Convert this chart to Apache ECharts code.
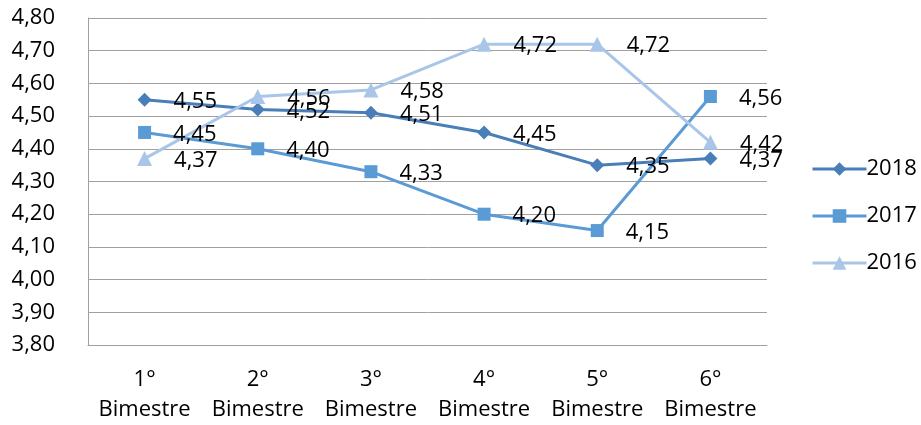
<!DOCTYPE html>
<html>
<head>
<meta charset="utf-8">
<script src="https://cdn.jsdelivr.net/npm/echarts@6/dist/echarts.min.js"></script>
<style>
  html, body { margin: 0; padding: 0; background: #fff; }
  #chart { width: 921px; height: 425px; }
</style>
</head>
<body>
<div id="chart"></div>
<script>
// Bimonthly averages per year
const categories = ['1°\nBimestre', '2°\nBimestre', '3°\nBimestre', '4°\nBimestre', '5°\nBimestre', '6°\nBimestre'];
const values2018 = [4.55, 4.52, 4.51, 4.45, 4.35, 4.37];
const values2017 = [4.45, 4.40, 4.33, 4.20, 4.15, 4.56];
const values2016 = [4.37, 4.56, 4.58, 4.72, 4.72, 4.42];
const yMin = 3.8, yMax = 4.8, yStep = 0.1;

const FONT = '"Open Sans", sans-serif';
const comma = v => v.toFixed(2).replace('.', ',');

function lineSeries(name, data, color, symbol, size) {
  return {
    name: name,
    type: 'line',
    data: data,
    symbol: symbol,
    symbolSize: size,
    itemStyle: { color: color },
    lineStyle: { color: color, width: 3 },
    label: {
      show: true,
      position: 'right',
      distance: 22,
      offset: [0, 2],
      color: '#000',
      fontFamily: FONT,
      fontSize: 22,
      formatter: p => comma(p.value)
    },
    emphasis: { disabled: true },
    animation: false
  };
}

const chart = echarts.init(document.getElementById('chart'), null, { renderer: 'canvas' });
chart.setOption({
  backgroundColor: '#fff',
  grid: { left: 88, right: 154, top: 18, bottom: 79, containLabel: false },
  legend: {
    orient: 'vertical',
    left: 806,
    top: 153,
    itemWidth: 54,
    itemHeight: 17,
    itemGap: 25,
    lineStyle: { width: 3 },
    textStyle: { fontFamily: FONT, fontSize: 22, color: '#000', padding: [0, 0, 0, -5] },
    data: ['2018', '2017', '2016']
  },
  xAxis: {
    type: 'category',
    data: categories,
    boundaryGap: true,
    axisLine: { show: true, lineStyle: { color: '#a0a0a0', width: 1 } },
    axisTick: { show: false },
    axisLabel: {
      color: '#000',
      fontFamily: FONT,
      fontSize: 22,
      lineHeight: 30,
      margin: 20,
      interval: 0
    },
    splitLine: { show: false }
  },
  yAxis: {
    type: 'value',
    min: yMin,
    max: yMax,
    interval: yStep,
    axisLine: { show: true, lineStyle: { color: '#a0a0a0', width: 1 } },
    axisTick: { show: false },
    axisLabel: {
      color: '#000',
      fontFamily: FONT,
      fontSize: 22,
      margin: 33,
      formatter: v => comma(v)
    },
    splitLine: { show: true, lineStyle: { color: '#a0a0a0', width: 1 } }
  },
  series: [
    lineSeries('2018', values2018, '#4a7eb8', 'diamond', 14),
    lineSeries('2017', values2017, '#5b9bd5', 'rect', 13),
    lineSeries('2016', values2016, '#a9c5e8', 'triangle', 15)
  ]
});
</script>
</body>
</html>
